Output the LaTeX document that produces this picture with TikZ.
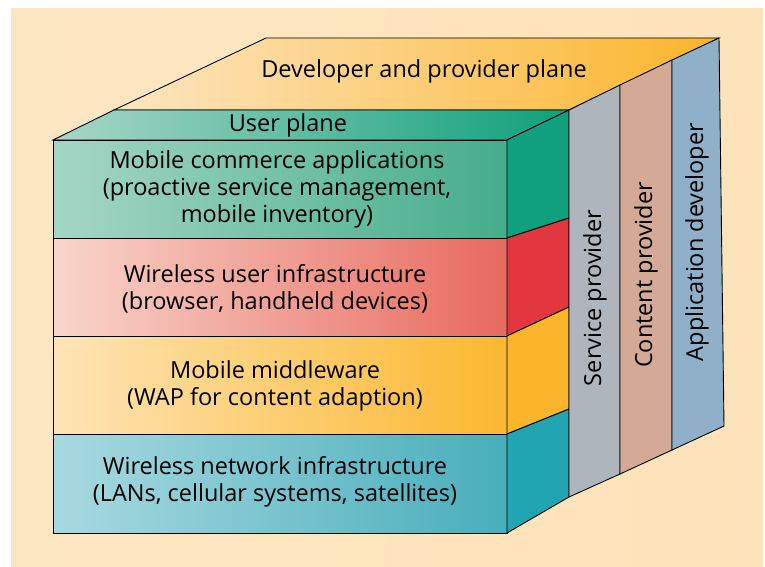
\documentclass[tikz,border=0pt]{standalone}
\usepackage{fontspec}
\setmainfont{Open Sans}
\definecolor{bgL}{HTML}{FDE6C2}
\definecolor{bgM}{HTML}{FEF3E0}
\definecolor{bgR}{HTML}{FDE3BA}
\definecolor{topL}{HTML}{FDE6C2}
\definecolor{topR}{HTML}{FBB52C}
\definecolor{userL}{HTML}{A8D6C6}
\definecolor{userM}{HTML}{7CC4AC}
\definecolor{userR}{HTML}{0FA07B}
\definecolor{mcL}{HTML}{A5D6C6}
\definecolor{mcR}{HTML}{45AD8B}
\definecolor{mcS}{HTML}{11A07D}
\definecolor{wuL}{HTML}{F9D5CB}
\definecolor{wuR}{HTML}{E8695F}
\definecolor{wuS}{HTML}{E2373F}
\definecolor{mwL}{HTML}{FEE4B6}
\definecolor{mwR}{HTML}{FBB82F}
\definecolor{mwS}{HTML}{FBB52A}
\definecolor{wnL}{HTML}{A9D9E0}
\definecolor{wnR}{HTML}{48AEBB}
\definecolor{wnS}{HTML}{22A5B3}
\definecolor{spC}{HTML}{AEB5BD}
\definecolor{cpC}{HTML}{D4A996}
\definecolor{adC}{HTML}{8FB0C8}
\begin{document}
\begin{tikzpicture}[x=1pt,y=-1pt,
  edge/.style={draw=black,line width=0.9pt,line join=miter},
  lbl/.style={font=\fontsize{23.5}{27}\selectfont, align=center, inner sep=0pt, text=black}]
\useasboundingbox (0,0) rectangle (765,567);
\fill[white] (0,0) rectangle (765,567);
\shade[left color=bgL, middle color=bgM, right color=bgR] (11,9) rectangle (763,567);
% top plane
\shade[left color=topL, right color=topR] (114,110) -- (266,38) -- (719,38) -- (569,110) -- cycle;
\draw[edge] (114,110) -- (266,38) -- (719,38) -- (569,110) -- cycle;
% user plane strip
\shade[left color=userL, middle color=userM, right color=userR] (53,140) -- (114,110) -- (569,110) -- (507,140) -- cycle;
\draw[edge] (53,140) -- (114,110) -- (569,110) -- (507,140) -- cycle;
% front faces
\shade[left color=mcL, right color=mcR] (53,140) rectangle (507,238);
\shade[left color=wuL, right color=wuR] (53,238) rectangle (507,336);
\shade[left color=mwL, right color=mwR] (53,336) rectangle (507,434);
\shade[left color=wnL, right color=wnR] (53,434) rectangle (507,533);
\draw[edge] (53,140) rectangle (507,238);
\draw[edge] (53,238) rectangle (507,336);
\draw[edge] (53,336) rectangle (507,434);
\draw[edge] (53,434) rectangle (507,533);
% side faces
\filldraw[edge, fill=mcS] (507,140) -- (569,110) -- (569,218) -- (507,238) -- cycle;
\filldraw[edge, fill=wuS] (507,238) -- (569,218) -- (569,307) -- (507,336) -- cycle;
\filldraw[edge, fill=mwS] (507,336) -- (569,307) -- (569,409) -- (507,434) -- cycle;
\filldraw[edge, fill=wnS] (507,434) -- (569,409) -- (569,497) -- (507,533) -- cycle;
% panels
\filldraw[edge, fill=spC] (569,110) -- (620,85) -- (620,474) -- (569,497) -- cycle;
\filldraw[edge, fill=cpC] (620,85) -- (672,60) -- (672,450) -- (620,474) -- cycle;
\filldraw[edge, fill=adC] (672,60) -- (719,38) -- (724,426) -- (672,450) -- cycle;
% labels
\node[lbl] (dev) at (424,71) {Developer and provider plane};
\node[lbl] (usr) at (288,125) {User plane};
\node[lbl] (mc) at (277,189) {Mobile commerce applications\\(proactive service management,\\mobile inventory)};
\node[lbl] (wu) at (275,289) {Wireless user infrastructure\\(browser, handheld devices)};
\node[lbl] (mw) at (275,386) {Mobile middleware\\(WAP for content adaption)};
\node[lbl] (wn) at (275,482) {Wireless network infrastructure\\(LANs, cellular systems, satellites)};
\node[lbl, rotate=90] (sp) at (595,298) {Service provider};
\node[lbl, rotate=90] (cp) at (646,275) {Content provider};
\node[lbl, rotate=90] (ad) at (697,242) {Application developer};
\end{tikzpicture}
\end{document}
